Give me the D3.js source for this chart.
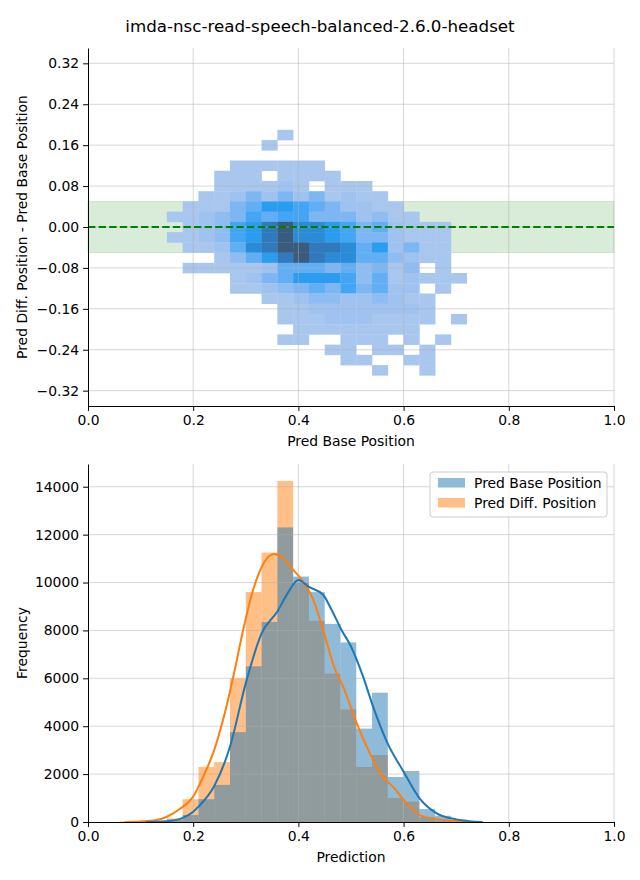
<!DOCTYPE html>
<html>
<head>
<meta charset="utf-8">
<script src="https://cdn.jsdelivr.net/npm/d3@7"></script>
<style>
  body { margin: 0; background: #fff; }
</style>
</head>
<body>
<div id="chart"></div>
<script>
// ---- data ----
const title = 'imda-nsc-read-speech-balanced-2.6.0-headset';

// 2D histogram: left edge of each x bin, centre of each y bin, relative counts (0 = empty)
const heatXStart = [0.15, 0.18, 0.21, 0.24, 0.27, 0.30, 0.33, 0.36, 0.39, 0.42,
                    0.45, 0.48, 0.51, 0.54, 0.57, 0.60, 0.63, 0.66, 0.69];
const heatYCenter = [0.18, 0.16, 0.14, 0.12, 0.10, 0.08, 0.06, 0.04, 0.02, 0.00,
                     -0.02, -0.04, -0.06, -0.08, -0.10, -0.12, -0.14, -0.16, -0.18,
                     -0.20, -0.22, -0.24, -0.26, -0.28];
const heatCounts = [
  [0,0,0,0,0,0,0,1,0,0,0,0,0,0,0,0,0,0,0],
  [0,0,0,0,0,0,1,0,0,0,0,0,0,0,0,0,0,0,0],
  [0,0,0,0,0,0,0,0,0,0,0,0,0,0,0,0,0,0,0],
  [0,0,0,0,1,1,1,1,1,1,0,0,0,0,0,0,0,0,0],
  [0,0,0,1,1,1,0,1,1,1,1,0,0,0,0,0,0,0,0],
  [0,0,0,1,1,1,1,2,1,0,1,1,1,0,0,0,0,0,0],
  [0,0,1,1,2,4,2,4,2,4,1,2,1,1,0,0,0,0,0],
  [0,1,1,1,4,5,7,7,6,5,4,2,2,1,1,0,0,0,0],
  [1,1,2,3,4,6,5,6,6,4,4,4,2,3,1,1,0,0,0],
  [0,1,2,3,6,7,9,10,8,8,7,6,4,5,2,1,1,1,0],
  [1,1,2,3,6,7,9,10,8,8,7,6,4,4,2,1,1,1,0],
  [0,1,1,2,5,8,9,10,10,9,9,8,5,7,2,4,1,1,0],
  [0,0,0,1,3,5,7,9,10,9,8,8,5,5,3,2,1,1,0],
  [0,1,1,1,1,1,2,5,5,5,4,5,3,4,1,3,0,1,0],
  [0,0,0,0,1,2,4,5,7,7,7,6,3,5,1,2,1,1,1],
  [0,0,0,0,1,1,2,3,4,5,4,6,4,5,2,2,0,1,0],
  [0,0,0,0,0,0,1,1,2,3,3,2,2,3,2,1,1,0,0],
  [0,0,0,0,0,0,0,1,1,2,2,2,2,2,2,2,1,0,0],
  [0,0,0,0,0,0,0,1,1,1,2,2,2,1,1,1,1,0,1],
  [0,0,0,0,0,0,0,0,1,1,1,1,1,1,1,1,0,0,0],
  [0,0,0,0,0,0,0,1,1,0,0,1,1,1,0,1,0,1,0],
  [0,0,0,0,0,0,0,0,0,0,1,1,0,1,1,0,1,0,0],
  [0,0,0,0,0,0,0,0,0,0,0,1,1,0,0,1,1,0,0],
  [0,0,0,0,0,0,0,0,0,0,0,0,0,1,0,0,1,0,0]
];
const heatBinW = 0.03, heatBinH = 0.02;
const bandLimit = 0.05;

// 1D histograms
const histXStart = [0.06, 0.09, 0.12, 0.15, 0.18, 0.21, 0.24, 0.27, 0.30, 0.33, 0.36, 0.39,
                    0.42, 0.45, 0.48, 0.51, 0.54, 0.57, 0.60, 0.63, 0.66, 0.69, 0.72];
const histBinW = 0.03;
const baseCounts = [0, 10, 40, 100, 290, 950, 1550, 3750, 6500, 8350, 12300, 10250,
                    9600, 8270, 7500, 3900, 5400, 1880, 2130, 540, 260, 100, 30];
const diffCounts = [30, 30, 50, 150, 950, 2300, 2500, 6000, 9600, 11250, 14240, 10000,
                    8400, 6200, 4700, 2300, 2800, 1000, 850, 200, 50, 10, 0];

// kde curves
const kdeBaseX = [0.11, 0.15, 0.18, 0.20, 0.21, 0.24, 0.27, 0.30, 0.33, 0.36, 0.38, 0.40,
                  0.42, 0.447, 0.463, 0.482, 0.50, 0.523, 0.542, 0.568, 0.60, 0.63, 0.663, 0.70, 0.75];
const kdeBaseY = [0, 30, 170, 430, 640, 1500, 3150, 5800, 7880, 8790, 9570, 10110,
                  9820, 9490, 8860, 8020, 7330, 6070, 4820, 3360, 2100, 1000, 360, 110, 0];
const kdeDiffX = [0.07, 0.10, 0.13, 0.15, 0.175, 0.20, 0.219, 0.24, 0.26, 0.279, 0.295, 0.314,
                  0.336, 0.354, 0.368, 0.387, 0.409, 0.428, 0.447, 0.47, 0.485, 0.511, 0.539,
                  0.558, 0.58, 0.603, 0.631, 0.675, 0.72];
const kdeDiffY = [0, 20, 80, 220, 550, 1060, 1890, 3010, 4540, 6350, 8020, 9700,
                  10880, 11190, 11060, 10600, 10040, 9300, 8020, 6350, 5650, 4120, 2730,
                  1960, 1470, 850, 290, 80, 0];

const xTicks = [0, 0.2, 0.4, 0.6, 0.8, 1.0];
const yTicksTop = [0.32, 0.24, 0.16, 0.08, 0, -0.08, -0.16, -0.24, -0.32];
const yTicksBottom = [0, 2000, 4000, 6000, 8000, 10000, 12000, 14000];
const seriesNames = ['Pred Base Position', 'Pred Diff. Position'];

// ---- drawing ----
const FONT = 'DejaVu Sans, sans-serif';
const FS = 13.9;
const svg = d3.select('#chart').append('svg')
  .attr('width', 640).attr('height', 880)
  .style('font-family', FONT);

svg.append('text')
  .attr('x', 320).attr('y', 32)
  .attr('text-anchor', 'middle')
  .attr('font-size', 16.7)
  .text(title);

const fmtMinus = f => v => f(v).replace('-', '\u2212');

function styleAxis(g) {
  g.attr('font-family', FONT);
  g.selectAll('text').attr('font-size', FS).attr('fill', '#000');
  g.selectAll('line').attr('stroke', '#000').attr('stroke-width', 1);
  g.select('.domain').attr('stroke', '#000').attr('stroke-width', 1);
}

function grid(g, x, y, xs, ys) {
  const gg = g.append('g').attr('stroke', '#b0b0b0').attr('stroke-opacity', 0.5).attr('stroke-width', 1);
  gg.selectAll('.gx').data(xs).enter().append('line')
    .attr('x1', d => x(d)).attr('x2', d => x(d))
    .attr('y1', y.range()[0]).attr('y2', y.range()[1]);
  gg.selectAll('.gy').data(ys).enter().append('line')
    .attr('y1', d => y(d)).attr('y2', d => y(d))
    .attr('x1', x.range()[0]).attr('x2', x.range()[1]);
}

// ---------- top panel ----------
const xTop = d3.scaleLinear().domain([0, 1]).range([88, 614]);
const yTop = d3.scaleLinear().domain([-0.35, 0.35]).range([406, 48]);
const topG = svg.append('g');

// tolerance band
topG.append('rect')
  .attr('x', xTop(0)).attr('width', xTop(1) - xTop(0))
  .attr('y', yTop(bandLimit)).attr('height', yTop(-bandLimit) - yTop(bandLimit))
  .attr('fill', '#008000').attr('fill-opacity', 0.15)
  .attr('stroke', '#008000').attr('stroke-opacity', 0.15);

const heatColor = d3.scaleLinear()
  .domain([1, 2, 3, 4, 5, 6, 7, 8, 9, 10])
  .range(['#a9c6ee', '#9fc2f0', '#90bdf1', '#7db6f3', '#62aef5',
          '#45a5f5', '#2c9cf1', '#2b8bd7', '#3079bc', '#3a5a7e'])
  .interpolate(d3.interpolateRgb);

const cells = [];
heatCounts.forEach((row, r) => row.forEach((c, i) => {
  if (c > 0) cells.push({ x0: heatXStart[i], yc: heatYCenter[r], c });
}));
topG.append('g').selectAll('rect').data(cells).enter().append('rect')
  .attr('x', d => xTop(d.x0))
  .attr('width', d => xTop(d.x0 + heatBinW) - xTop(d.x0) + 0.3)
  .attr('y', d => yTop(d.yc + heatBinH / 2))
  .attr('height', d => yTop(d.yc - heatBinH / 2) - yTop(d.yc + heatBinH / 2) + 0.3)
  .attr('fill', d => heatColor(d.c));

grid(topG, xTop, yTop, xTicks.slice(1), yTicksTop);

topG.append('line')
  .attr('x1', xTop(0)).attr('x2', xTop(1))
  .attr('y1', yTop(0)).attr('y2', yTop(0))
  .attr('stroke', '#008000').attr('stroke-width', 2)
  .attr('stroke-dasharray', '7.4,3.2');

topG.append('g').attr('transform', 'translate(0,406)')
  .call(d3.axisBottom(xTop).tickValues(xTicks).tickFormat(d3.format('.1f'))
    .tickSize(4.9).tickSizeOuter(0).tickPadding(4))
  .call(styleAxis);
topG.append('g').attr('transform', 'translate(88,0)')
  .call(d3.axisLeft(yTop).tickValues(yTicksTop).tickFormat(fmtMinus(d3.format('.2f')))
    .tickSize(4.9).tickSizeOuter(0).tickPadding(4))
  .call(styleAxis);

topG.append('text')
  .attr('x', 351).attr('y', 446)
  .attr('text-anchor', 'middle').attr('font-size', FS)
  .text('Pred Base Position');
topG.append('text')
  .attr('transform', 'translate(27,227) rotate(-90)')
  .attr('text-anchor', 'middle').attr('font-size', FS)
  .text('Pred Diff. Position - Pred Base Position');

// ---------- bottom panel ----------
const xBot = d3.scaleLinear().domain([0, 1]).range([88, 614]);
const yBot = d3.scaleLinear().domain([0, 14950]).range([822, 464]);
const botG = svg.append('g');

const colors = { base: '#1f77b4', diff: '#ff7f0e' };

function bars(counts, color) {
  botG.append('g').selectAll('rect').data(counts).enter().append('rect')
    .attr('x', (d, i) => xBot(histXStart[i]))
    .attr('width', (d, i) => xBot(histXStart[i] + histBinW) - xBot(histXStart[i]))
    .attr('y', d => yBot(d))
    .attr('height', d => yBot(0) - yBot(d))
    .attr('fill', color).attr('fill-opacity', 0.5);
}
bars(diffCounts, colors.diff);
bars(baseCounts, colors.base);

grid(botG, xBot, yBot, xTicks.slice(1), yTicksBottom.slice(1));

const line = d3.line().x(d => xBot(d[0])).y(d => yBot(d[1])).curve(d3.curveMonotoneX);
botG.append('path')
  .attr('d', line(d3.zip(kdeDiffX, kdeDiffY)))
  .attr('fill', 'none').attr('stroke', colors.diff).attr('stroke-width', 2);
botG.append('path')
  .attr('d', line(d3.zip(kdeBaseX, kdeBaseY)))
  .attr('fill', 'none').attr('stroke', colors.base).attr('stroke-width', 2);

botG.append('g').attr('transform', 'translate(0,822)')
  .call(d3.axisBottom(xBot).tickValues(xTicks).tickFormat(d3.format('.1f'))
    .tickSize(4.9).tickSizeOuter(0).tickPadding(4))
  .call(styleAxis);
botG.append('g').attr('transform', 'translate(88,0)')
  .call(d3.axisLeft(yBot).tickValues(yTicksBottom).tickFormat(d3.format('d'))
    .tickSize(4.9).tickSizeOuter(0).tickPadding(4))
  .call(styleAxis);

botG.append('text')
  .attr('x', 351).attr('y', 862)
  .attr('text-anchor', 'middle').attr('font-size', FS)
  .text('Prediction');
botG.append('text')
  .attr('transform', 'translate(27,643) rotate(-90)')
  .attr('text-anchor', 'middle').attr('font-size', FS)
  .text('Frequency');

// legend
const legend = botG.append('g').attr('transform', 'translate(430,472)');
legend.append('rect')
  .attr('width', 177).attr('height', 45).attr('rx', 3)
  .attr('fill', '#fff').attr('fill-opacity', 0.8)
  .attr('stroke', '#cccccc');
[colors.base, colors.diff].forEach((c, i) => {
  legend.append('rect')
    .attr('x', 8).attr('y', 6 + i * 20).attr('width', 27).attr('height', 9.5)
    .attr('fill', c).attr('fill-opacity', 0.5);
  legend.append('text')
    .attr('x', 44).attr('y', 16 + i * 20)
    .attr('font-size', FS)
    .text(seriesNames[i]);
});
</script>
</body>
</html>
